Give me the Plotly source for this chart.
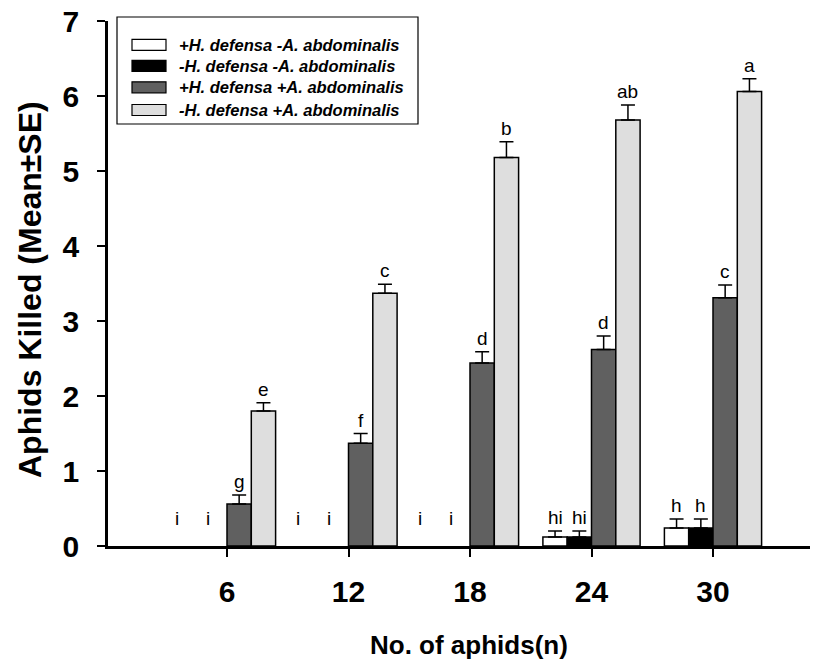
import plotly.graph_objects as go

# ---------------- data ----------------
n_aphids = [6, 12, 18, 24, 30]
tick_labels = ["6", "12", "18", "24", "30"]

series_names = [
    "+H. defensa -A. abdominalis",
    "-H. defensa -A. abdominalis",
    "+H. defensa +A. abdominalis",
    "-H. defensa +A. abdominalis",
]
mean_hp_aa = [0.0, 0.0, 0.0, 0.12, 0.24]      # +H -A
se_hp_aa = [0.0, 0.0, 0.0, 0.08, 0.12]
mean_hm_am = [0.0, 0.0, 0.0, 0.12, 0.24]      # -H -A
se_hm_am = [0.0, 0.0, 0.0, 0.08, 0.12]
mean_hp_ap = [0.56, 1.37, 2.44, 2.62, 3.31]   # +H +A
se_hp_ap = [0.12, 0.13, 0.15, 0.18, 0.17]
mean_hm_ap = [1.80, 3.37, 5.18, 5.68, 6.06]   # -H +A
se_hm_ap = [0.11, 0.12, 0.21, 0.20, 0.17]

letters_hp_aa = ["i", "i", "i", "hi", "h"]
letters_hm_am = ["i", "i", "i", "hi", "h"]
letters_hp_ap = ["g", "f", "d", "d", "c"]
letters_hm_ap = ["e", "c", "b", "ab", "a"]

means = [mean_hp_aa, mean_hm_am, mean_hp_ap, mean_hm_ap]
ses = [se_hp_aa, se_hm_am, se_hp_ap, se_hm_ap]
letters = [letters_hp_aa, letters_hm_am, letters_hp_ap, letters_hm_ap]
colors = ["#ffffff", "#000000", "#606060", "#dedede"]

# ---------------- figure ----------------
OFF = 0  # body margin removed via post_script
W, H = 826, 668
ML, MT = 108, 21
PW, PH = 702, 525
MR = W - ML - PW
MB = H - MT - PH


def px_x(p):
    return (p - OFF - ML) / PW


def px_y(p):
    return (OFF + MT + PH - p) / PH


BAR_W = 1.2  # data units (group width 4.8 of spacing 6)
BASE = "Liberation Sans"

fig = go.Figure()
for k in range(4):
    fig.add_trace(go.Bar(
        x=n_aphids,
        y=[m if m > 0 else None for m in means[k]],
        name=series_names[k],
        showlegend=False,
        marker=dict(color=colors[k], line=dict(color="black", width=1.5)),
        error_y=dict(type="data", symmetric=False,
                     array=[s if s > 0 else None for s in ses[k]],
                     arrayminus=[0] * len(ses[k]),
                     color="black", thickness=1.5, width=7),
    ))

annotations = []
offsets = [-1.5, -0.5, 0.5, 1.5]
for k in range(4):
    for i, xv in enumerate(n_aphids):
        m = means[k][i]
        s = ses[k][i]
        zero = m <= 0
        annotations.append(dict(
            x=xv + offsets[k] * BAR_W,
            y=m + s,
            xref="x", yref="y",
            text=letters[k][i],
            showarrow=False,
            yanchor="bottom",
            xshift=(-14 if k == 0 else -7) if zero else 0,
            yshift=15 if zero else 1,
            font=dict(family=BASE, size=19, color="#000000"),
        ))

# axis titles
annotations.append(dict(
    x=px_x(469), y=px_y(645), xref="paper", yref="paper",
    text="No. of aphids(n)", showarrow=False, xanchor="center", yanchor="middle",
    font=dict(family=BASE, size=26, color="black", weight="bold"),
))
annotations.append(dict(
    x=px_x(30), y=px_y(290), xref="paper", yref="paper",
    text="Aphids Killed (Mean±SE)", showarrow=False, textangle=-90,
    xanchor="center", yanchor="middle",
    font=dict(family=BASE, size=32, color="black", weight="bold"),
))

# legend frame
shapes = [dict(
    type="rect", xref="paper", yref="paper",
    x0=px_x(117), x1=px_x(418),
    y0=px_y(124), y1=px_y(17),
    line=dict(color="black", width=1.2), fillcolor="rgba(0,0,0,0)",
)]
row_y = [44.8, 65.8, 87.3, 110.0]
for k in range(4):
    shapes.append(dict(
        type="rect", xref="paper", yref="paper",
        x0=px_x(132), x1=px_x(166),
        y0=px_y(row_y[k] + 5.5), y1=px_y(row_y[k] - 5.5),
        line=dict(color="black", width=1.2), fillcolor=colors[k],
    ))
    annotations.append(dict(
        x=px_x(177), y=px_y(row_y[k]), xref="paper", yref="paper",
        text=series_names[k], showarrow=False, xanchor="left", yanchor="middle",
        font=dict(family=BASE, size=16.5, color="black", weight="bold", style="italic"),
    ))

fig.update_layout(
    width=W, height=H,
    margin=dict(l=ML, r=MR, t=MT, b=MB, autoexpand=False),
    paper_bgcolor="white", plot_bgcolor="white",
    barmode="group", bargap=0.2, bargroupgap=0,
    showlegend=False,
    xaxis=dict(
        range=[6 - (227 - OFF - ML) / (121.5 / 6),
               6 - (227 - OFF - ML) / (121.5 / 6) + PW / (121.5 / 6)],
        tickmode="array", tickvals=n_aphids, ticktext=tick_labels,
        ticks="outside", ticklen=8, tickwidth=1.5, tickcolor="black",
        showline=True, linecolor="black", linewidth=3,
        showgrid=False, zeroline=False, automargin=False,
        tickfont=dict(family=BASE, size=30, color="black", weight="bold"),
        ticklabelstandoff=9, ticklabeloverflow="allow",
    ),
    yaxis=dict(
        range=[0, 7], tickmode="array", tickvals=list(range(8)),
        ticks="outside", ticklen=8, tickwidth=1.5, tickcolor="black",
        showline=True, linecolor="black", linewidth=2.5,
        showgrid=False, zeroline=False, automargin=False,
        tickfont=dict(family=BASE, size=30, color="black", weight="bold"),
        ticklabelstandoff=12, ticklabeloverflow="allow",
    ),
    annotations=annotations,
    shapes=shapes,
)

fig.write_html(
    "out.html",
    config={"displayModeBar": False},
    post_script="document.body.style.margin='0';document.body.style.overflow='hidden';",
)
